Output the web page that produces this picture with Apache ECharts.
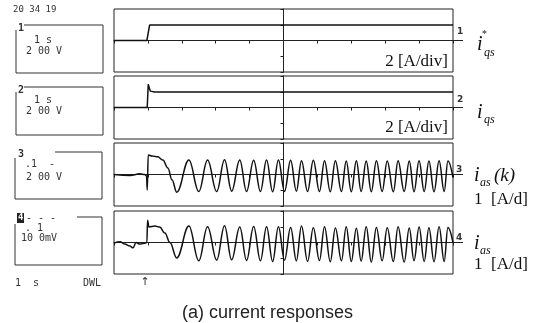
<!DOCTYPE html>
<html>
<head>
<meta charset="utf-8">
<script src="https://cdn.jsdelivr.net/npm/echarts@6/dist/echarts.min.js"></script>
<style>
  html, body { margin: 0; padding: 0; background: #fff; }
  #scope { width: 544px; height: 323px; }
</style>
</head>
<body>
<div id="scope"></div>
<script>
// time in divisions (1 s/div), centre of screen = 0; value in half-panel units
const stepTime1 = [-5, -4.03, -3.95, 5]
const stepVal1 = [0, 0, 0.49, 0.49]

const stepTime2 = [-5, -4.02, -3.99, -3.93, -3.8, 5]
const stepVal2 = [0, 0, 0.74, 0.52, 0.49, 0.49]

const startTime3 = [-5, -4.53, -4.24, -4.09, -4.04, -4.02, -3.99, -3.88, -3.71, -3.56, -3.41, -3.29]
const startVal3 = [0, -0.03, 0.02, 0, -0.05, -0.49, 0.62, 0.59, 0.56, 0.46, 0.21, -0.17]

const startTime4 = [-5, -4.82, -4.68, -4.53, -4.44, -4.35, -4.24, -4.09, -4.03, -4.01, -3.97, -3.79, -3.65, -3.5, -3.35]
const startVal4 = [-0.02, 0.02, -0.05, -0.11, -0.17, 0, -0.05, -0.02, 0, 0.71, 0.49, 0.52, 0.49, 0.3, 0]

// peaks / troughs of the oscillation after the step
const waveTime = [-3.15, -2.79, -2.5, -2.24, -1.97, -1.74, -1.53, -1.29, -1.09, -0.88,
  -0.68, -0.5, -0.32, -0.15, 0.03, 0.21, 0.38, 0.53, 0.71, 0.88,
  1.06, 1.21, 1.38, 1.53, 1.71, 1.85, 2.0, 2.15, 2.29, 2.44,
  2.59, 2.74, 2.91, 3.06, 3.24, 3.38, 3.56, 3.71, 3.85, 4.0,
  4.15, 4.29, 4.44, 4.59, 4.74, 4.85, 5.0]
const waveVal3 = [-0.56, 0.46, -0.54, 0.46, -0.54, 0.47, -0.53, 0.46, -0.54, 0.45,
  -0.54, 0.46, -0.55, 0.46, -0.54, 0.45, -0.53, 0.44, -0.54, 0.45,
  -0.54, 0.44, -0.55, 0.44, -0.54, 0.43, -0.55, 0.44, -0.54, 0.43,
  -0.55, 0.44, -0.54, 0.43, -0.55, 0.44, -0.54, 0.43, -0.55, 0.44,
  -0.54, 0.43, -0.55, 0.44, -0.54, 0.43, -0.1]
const waveVal4 = [-0.49, 0.52, -0.58, 0.5, -0.56, 0.53, -0.55, 0.49, -0.57, 0.51,
  -0.58, 0.5, -0.6, 0.5, -0.56, 0.48, -0.58, 0.52, -0.6, 0.47,
  -0.57, 0.5, -0.61, 0.46, -0.58, 0.5, -0.6, 0.45, -0.59, 0.5,
  -0.62, 0.48, -0.58, 0.47, -0.6, 0.5, -0.62, 0.46, -0.58, 0.49,
  -0.6, 0.47, -0.61, 0.5, -0.6, 0.48, 0]

const gridTops = [9, 76, 143, 211]
const panelH = 63

function zip(t, v) {
  return t.map((x, i) => [x, v[i]])
}

const traces = [
  zip(stepTime1, stepVal1),
  zip(stepTime2, stepVal2),
  zip(startTime3, startVal3).concat(zip(waveTime, waveVal3)),
  zip(startTime4, startVal4).concat(zip(waveTime, waveVal4))
]

const lcd = '10px "DejaVu Sans Mono"'
const serif = '"Liberation Serif", "DejaVu Serif", serif'

function txt(x, y, text, font, extra) {
  return {
    type: 'text', x: x, y: y, silent: true,
    style: Object.assign({ text: text, font: font, fill: '#333', textVerticalAlign: 'middle' }, extra || {})
  }
}
function line(x1, y1, x2, y2, w) {
  return { type: 'line', silent: true, shape: { x1: x1, y1: y1, x2: x2, y2: y2 }, style: { stroke: '#222', lineWidth: w || 1 } }
}
function poly(points) {
  return { type: 'polyline', silent: true, shape: { points: points }, style: { stroke: '#333', lineWidth: 1, fill: null } }
}

const graphics = [
  txt(13, 10, '20 34 19', '9px "DejaVu Sans Mono"'),
  // channel boxes on the left
  poly([[24, 25], [103, 25], [103, 73], [16, 73], [16, 30]]),
  txt(18, 28, '1', 'bold 10px "DejaVu Sans Mono"'),
  txt(34, 40, '1 s', lcd),
  txt(26, 51, '2 00 V', lcd),
  poly([[24, 87], [103, 87], [103, 135], [16, 135], [16, 92]]),
  txt(18, 90, '2', 'bold 10px "DejaVu Sans Mono"'),
  txt(34, 100, '1 s', lcd),
  txt(26, 111, '2 00 V', lcd),
  poly([[55, 152], [102, 152], [102, 199], [15, 199], [15, 158]]),
  txt(18, 154, '3', 'bold 10px "DejaVu Sans Mono"'),
  txt(25, 164, '.1  -', lcd),
  txt(26, 177, '2 00 V', lcd),
  poly([[77, 217], [102, 217], [102, 265], [15, 265], [15, 224]]),
  { type: 'rect', silent: true, shape: { x: 17, y: 213, width: 7, height: 10 }, style: { fill: '#222' } },
  txt(18, 218, '4', 'bold 9px "DejaVu Sans Mono"', { fill: '#fff' }),
  txt(26, 218, '- - -', lcd),
  txt(25, 228, '. 1', lcd),
  txt(21, 238, '10 0mV', lcd),
  txt(15, 283, '1  s', lcd),
  txt(83, 283, 'DWL', lcd),
  // trigger arrow
  txt(145, 282, '↑', '11px "DejaVu Sans"', { textAlign: 'center' }),
  // channel markers on the right edge
  line(453, 40.5, 463, 40.5), txt(457, 32, '1', 'bold 9px "DejaVu Sans"'),
  line(453, 107.5, 463, 107.5), txt(457, 100, '2', 'bold 9px "DejaVu Sans"'),
  line(453, 174.5, 463, 174.5), txt(456, 170, '3', 'bold 9px "DejaVu Sans"'),
  line(453, 242.5, 463, 242.5), txt(456, 238, '4', 'bold 9px "DejaVu Sans"'),
  // scale labels
  txt(448, 62, '2 [A/div]', '17px ' + serif, { textAlign: 'right', fill: '#111' }),
  txt(448, 128, '2 [A/div]', '17px ' + serif, { textAlign: 'right', fill: '#111' }),
  txt(477, 45, 'i', 'italic 20px ' + serif, { fill: '#111' }),
  txt(482, 34, '*', '10px ' + serif, { fill: '#111' }),
  txt(484, 53, 'qs', 'italic 12px ' + serif, { fill: '#111' }),
  txt(477, 113, 'i', 'italic 20px ' + serif, { fill: '#111' }),
  txt(484, 120, 'qs', 'italic 12px ' + serif, { fill: '#111' }),
  txt(474, 176, 'i', 'italic 20px ' + serif, { fill: '#111' }),
  txt(480, 183, 'as', 'italic 12px ' + serif, { fill: '#111' }),
  txt(494, 176, '(k)', 'italic 19px ' + serif, { fill: '#111' }),
  txt(474, 200, '1  [A/d]', '17px ' + serif, { fill: '#111' }),
  txt(474, 244, 'i', 'italic 20px ' + serif, { fill: '#111' }),
  txt(480, 251, 'as', 'italic 12px ' + serif, { fill: '#111' }),
  txt(474, 265, '1  [A/d]', '17px ' + serif, { fill: '#111' }),
  // caption
  txt(182, 313, '(a) current responses', '18px "Liberation Sans"', { fill: '#222' })
]

const option = {
  backgroundColor: '#fff',
  animation: false,
  grid: gridTops.map(top => ({
    left: 114, top: top, width: 339, height: panelH,
    show: true, borderColor: '#222', borderWidth: 1, backgroundColor: 'transparent'
  })),
  xAxis: gridTops.map((t, i) => ({
    gridIndex: i, type: 'value', min: -5, max: 5, interval: 1,
    axisLine: { onZero: true, lineStyle: { color: '#222', width: 1 } },
    axisTick: { show: true, length: 3, lineStyle: { color: '#222' } },
    axisLabel: { show: false },
    splitLine: { show: false }
  })),
  yAxis: gridTops.map((t, i) => ({
    gridIndex: i, type: 'value', min: -1, max: 1, interval: 0.5,
    axisLine: { show: true, onZero: true, lineStyle: { color: '#222', width: 1 } },
    axisTick: { show: true, length: 3, lineStyle: { color: '#222' } },
    axisLabel: { show: false },
    splitLine: { show: false }
  })),
  series: traces.map((d, i) => ({
    type: 'line',
    xAxisIndex: i,
    yAxisIndex: i,
    data: d,
    showSymbol: false,
    smooth: i > 1 ? 0.4 : false,
    smoothMonotone: 'x',
    lineStyle: { color: '#111', width: 1.5 }
  })),
  graphic: graphics
}

const myChart = echarts.init(document.getElementById('scope'))
myChart.setOption(option)
</script>
</body>
</html>
